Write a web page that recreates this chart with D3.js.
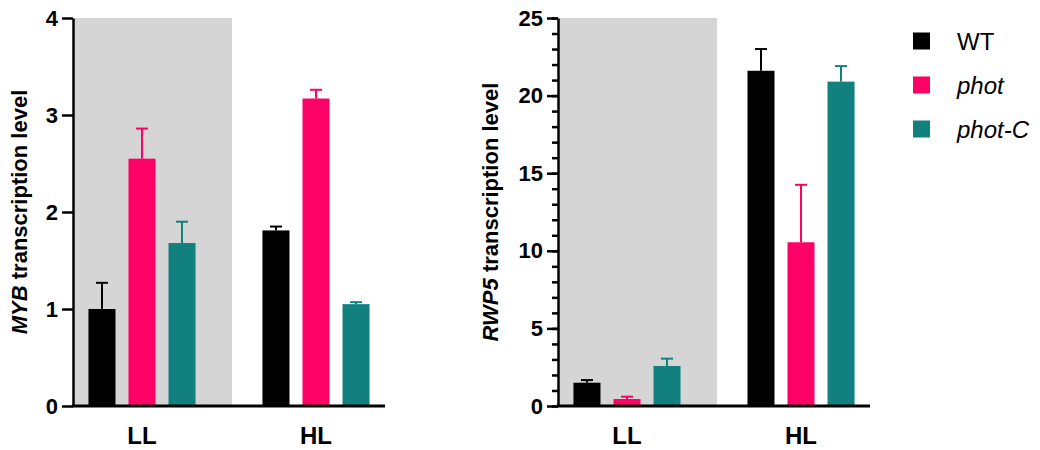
<!DOCTYPE html>
<html>
<head>
<meta charset="utf-8">
<script src="https://cdn.jsdelivr.net/npm/d3@7"></script>
<style>
  html, body { margin: 0; padding: 0; background: #fff; }
  svg { display: block; font-family: "Liberation Sans", Arial, sans-serif; }
</style>
</head>
<body>
<svg id="chart" width="1040" height="450"></svg>
<script>
// Light conditions and genotypes
const conditions = ["LL", "HL"];
const genotypes = ["WT", "phot", "phot-C"];
const colors = ["#000000", "#ff0066", "#138080"];

// MYB transcription level: mean and upper error (mean + SD), per condition, in genotype order
const mybMean = [[1.00, 2.55, 1.68], [1.81, 3.17, 1.05]];
const mybErr  = [[1.27, 2.86, 1.90], [1.85, 3.26, 1.07]];

// RWP5 transcription level
const rwpMean = [[1.50, 0.45, 2.58], [21.6, 10.55, 20.9]];
const rwpErr  = [[1.67, 0.60, 3.05], [23.0, 14.25, 21.9]];

const mybTicks = [0, 1, 2, 3, 4];
const rwpTicks = [0, 5, 10, 15, 20, 25];

const svg = d3.select("#chart");

function panel(opts) {
  const g = svg.append("g").attr("transform", `translate(${opts.left},0)`);
  const top = 18, bottom = 406, width = 312;

  const y = d3.scaleLinear().domain(opts.domain).range([bottom, top]);
  const x0 = d3.scaleBand().domain(conditions).range([0, width])
    .paddingInner(0.31).paddingOuter(0.0515);
  const x1 = d3.scaleBand().domain(genotypes).range([0, x0.bandwidth()])
    .paddingInner(0.325).paddingOuter(0.1625);

  // shaded low-light region
  const cLL = x0("LL") + x0.bandwidth() / 2;
  const cHL = x0("HL") + x0.bandwidth() / 2;
  g.append("rect")
    .attr("x", 0).attr("y", y(opts.domain[1]))
    .attr("width", (cLL + cHL) / 2 + 3)
    .attr("height", y(0) - y(opts.domain[1]))
    .attr("fill", "#d5d5d5");

  const rows = [];
  conditions.forEach((c, ci) => genotypes.forEach((s, si) => {
    rows.push({ c, s, si, v: opts.mean[ci][si], e: opts.err[ci][si] });
  }));

  // error bars (upper only)
  const eb = g.append("g").selectAll("g").data(rows).join("g")
    .attr("stroke", d => colors[d.si]).attr("stroke-width", 2);
  eb.append("line")
    .attr("x1", d => x0(d.c) + x1(d.s) + x1.bandwidth() / 2)
    .attr("x2", d => x0(d.c) + x1(d.s) + x1.bandwidth() / 2)
    .attr("y1", d => y(d.v)).attr("y2", d => y(d.e));
  eb.append("line")
    .attr("x1", d => x0(d.c) + x1(d.s) + x1.bandwidth() / 2 - 6)
    .attr("x2", d => x0(d.c) + x1(d.s) + x1.bandwidth() / 2 + 6)
    .attr("y1", d => y(d.e)).attr("y2", d => y(d.e));

  // bars
  g.append("g").selectAll("rect").data(rows).join("rect")
    .attr("x", d => x0(d.c) + x1(d.s))
    .attr("width", x1.bandwidth())
    .attr("y", d => y(d.v))
    .attr("height", d => y(0) - y(d.v))
    .attr("fill", d => colors[d.si]);

  // minor ticks
  if (opts.minor) {
    const minorAxis = d3.axisLeft(y).tickValues(d3.range(opts.domain[0], opts.domain[1] + 1, 1))
      .tickSize(6).tickFormat("");
    const gm = g.append("g").call(minorAxis);
    gm.select(".domain").remove();
    gm.selectAll("line").attr("stroke-width", 2.5);
  }

  // y axis
  const yAxis = d3.axisLeft(y).tickValues(opts.ticks).tickFormat(d3.format("d"))
    .tickSize(11).tickSizeOuter(0).tickPadding(4);
  const gy = g.append("g").call(yAxis);
  gy.select(".domain").attr("stroke-width", 2.5);
  gy.selectAll(".tick line").attr("stroke-width", 2.5);
  gy.selectAll("text").attr("font-size", 22).attr("font-weight", "bold")
    .attr("fill", "#000").attr("font-family", "Liberation Sans, Arial, sans-serif");

  // x axis
  const xAxis = d3.axisBottom(x0).tickSize(0).tickPadding(21);
  const gx = g.append("g").attr("transform", `translate(0,${bottom})`).call(xAxis);
  gx.select(".domain").attr("stroke-width", 3).attr("d", `M-1.25,0H${width}`);
  gx.selectAll("text").attr("font-size", 24).attr("font-weight", "bold")
    .attr("fill", "#000").attr("font-family", "Liberation Sans, Arial, sans-serif");

  // y-axis title
  const t = g.append("text")
    .attr("transform", `translate(${opts.titleX},${(top + bottom) / 2}) rotate(-90)`)
    .attr("text-anchor", "middle")
    .attr("font-size", 22).attr("font-weight", "bold");
  t.append("tspan").attr("font-style", "italic").text(opts.gene);
  t.append("tspan").text(" transcription level");
}

panel({ left: 73, domain: [0, 4], ticks: mybTicks, mean: mybMean, err: mybErr,
        gene: "MYB", titleX: -46, minor: false });
panel({ left: 558, domain: [0, 25], ticks: rwpTicks, mean: rwpMean, err: rwpErr,
        gene: "RWP5", titleX: -60, minor: true });

// legend
const legend = svg.append("g").attr("transform", "translate(913,41)");
const items = legend.selectAll("g").data(genotypes).join("g")
  .attr("transform", (d, i) => `translate(0,${i * 44})`);
items.append("rect").attr("x", 0).attr("y", -8.5).attr("width", 17).attr("height", 17)
  .attr("fill", (d, i) => colors[i]);
items.append("text").attr("x", 44).attr("y", 8.5)
  .attr("font-size", 24)
  .attr("font-style", d => d === "WT" ? "normal" : "italic")
  .text(d => d);
</script>
</body>
</html>
